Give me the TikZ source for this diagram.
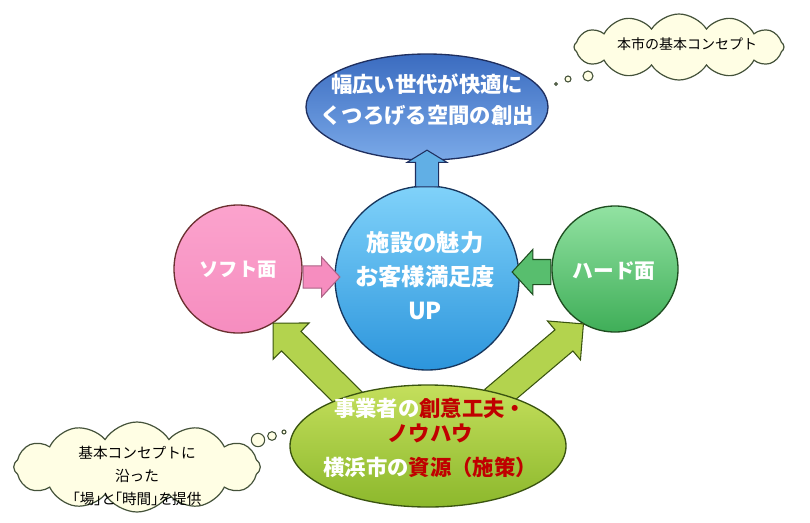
\documentclass[tikz,border=0pt]{standalone}
\usepackage{fontspec}
\setmainfont{Noto Sans CJK JP}
\newfontfamily\jpprop{Noto Sans CJK JP}[RawFeature=+palt]
\usetikzlibrary{shapes.geometric,shapes.symbols,shapes.arrows,calc}
\pgfdeclarelayer{front}
\pgfsetlayers{main,front}
\definecolor{goaltop}{HTML}{3B6CC0}
\definecolor{goalbot}{HTML}{7AA9E8}
\definecolor{goalline}{HTML}{1F2F5F}
\definecolor{ctrtop}{HTML}{80D2FA}
\definecolor{ctrbot}{HTML}{2C95DC}
\definecolor{ctrline}{HTML}{17365D}
\definecolor{pinkfill}{HTML}{F68DBF}
\definecolor{pinktop}{HTML}{FBA3CD}
\definecolor{pinkline}{HTML}{6B3030}
\definecolor{grntop}{HTML}{92E2A2}
\definecolor{grnbot}{HTML}{3FAE58}
\definecolor{grnline}{HTML}{1E4D20}
\definecolor{ygtop}{HTML}{C4DF5C}
\definecolor{ygbot}{HTML}{8CB82C}
\definecolor{ygline}{HTML}{3A5410}
\definecolor{cloudfill}{HTML}{FFFEE4}
\definecolor{cloudline}{HTML}{44523A}
\definecolor{accent}{HTML}{C00000}
\tikzset{
  blob/.style={draw, line width=1pt, inner sep=0pt},
  wtext/.style={text=white, font=\bfseries, align=center, inner sep=0pt},
  ctext/.style={text=black, align=center, inner sep=0pt},
  cloudbox/.style={cloud, cloud puffs=12, cloud puff arc=115, cloud ignores aspect,
    draw=cloudline, fill=cloudfill, line width=0.9pt, inner sep=0pt},
  bubble/.style={draw=cloudline, fill=cloudfill, line width=0.8pt},
  barrow/.style={single arrow, inner xsep=0pt, line width=0.8pt, anchor=tail},
  uparr/.style={barrow, draw=goalline, fill=ctrbot!75!white, inner ysep=8.25pt,
    single arrow head extend=6.25pt, single arrow tip angle=117},
  pinkarr/.style={barrow, draw=pinkfill!70!black, fill=pinkfill, inner ysep=8pt,
    single arrow head extend=6.5pt, single arrow tip angle=95},
  grnarr/.style={barrow, draw=grnline, fill=grnbot!70!grntop, inner ysep=9pt,
    single arrow head extend=7.5pt, single arrow tip angle=95},
  ygarr/.style={barrow, draw=ygline, fill=ygtop!70!ygbot, inner ysep=10pt,
    single arrow head extend=8.75pt, single arrow tip angle=90},
}
\newcommand\blockarrow[3]{%
  \path let \p1=(#1), \p2=(#2), \n1={atan2(\y2-\y1,\x2-\x1)},
    \n2={veclen(\x2-\x1,\y2-\y1)} in
    node[#3, minimum height=\n2, rotate=\n1] at (\p1) {};}
\begin{document}
\begin{tikzpicture}[x=0.75pt,y=-0.75pt]
\useasboundingbox (0,0) rectangle (810,522);

% thought clouds
\node[cloudbox, minimum width=157.5pt, minimum height=49.5pt] (cloudA) at (679,47) {};
\node[ctext, font=\fontsize{10.5pt}{13pt}\selectfont] (cloudAtext) at (687,44) {本市の基本コンセプト};
\node[bubble, circle, minimum size=7.5pt, inner sep=0pt] (bA1) at (588,76) {};
\node[bubble, circle, minimum size=4.5pt, inner sep=0pt] (bA2) at (568,79) {};
\node[bubble, circle, minimum size=2.2pt, inner sep=0pt] (bA3) at (556,84) {};

\node[cloudbox, minimum width=185pt, minimum height=67.5pt] (cloudB) at (137,467) {};
\node[ctext, font=\fontsize{11pt}{17pt}\selectfont] (cloudBtext) at (137,476)
  {基本コンセプトに\\沿った\\{\jpprop 「場」と「時間」を提供}};
\node[bubble, circle, minimum size=10pt, inner sep=0pt] (bB1) at (258,440) {};
\node[bubble, circle, minimum size=6.5pt, inner sep=0pt] (bB2) at (272,436) {};
\node[bubble, circle, minimum size=3pt, inner sep=0pt] (bB3) at (284,432) {};

% main shapes
\node[blob, ellipse, draw=goalline, top color=goaltop, bottom color=goalbot,
  minimum width=181.5pt, minimum height=79.5pt] (goal) at (427,107) {};
\node[wtext, font=\bfseries\fontsize{16pt}{23pt}\selectfont] (goaltext) at (427,100)
  {幅広い世代が快適に\\くつろげる空間の創出};

\node[blob, circle, draw=ctrline, top color=ctrtop, bottom color=ctrbot,
  minimum size=138pt] (center) at (427,278) {};
\node[wtext, font=\bfseries\fontsize{17.5pt}{25.5pt}\selectfont] (centertext) at (425,276)
  {施設の魅力\\お客様満足度\\UP};

\node[blob, circle, draw=pinkline, top color=pinktop, bottom color=pinkfill,
  minimum size=96pt] (soft) at (238,269) {};
\node[wtext, font=\bfseries\fontsize{14.5pt}{17pt}\selectfont] (softtext) at (238,270) {ソフト面};

\node[blob, circle, draw=grnline, top color=grntop, bottom color=grnbot,
  minimum size=94.5pt] (hard) at (615,269) {};
\node[wtext, font=\bfseries\fontsize{15.5pt}{18pt}\selectfont] (hardtext) at (614,271) {ハード面};

\begin{pgfonlayer}{front}
\node[blob, ellipse, draw=ygline, top color=ygtop, bottom color=ygbot,
  minimum width=207pt, minimum height=91.5pt] (bottom) at (428,446) {};
\node[wtext, font=\bfseries\fontsize{16pt}{18.5pt}\selectfont] (bottomtext) at (430,438)
  {事業者の{\color{accent}創意工夫・}\\{\color{accent}ノウハウ}\\[7pt]
   横浜市の{\color{accent}資源（施策）}};
\end{pgfonlayer}

% arrows
\blockarrow{$(center.north)+(0,2)$}{$(goal.south)+(0,-10)$}{uparr}
\blockarrow{$(soft.east)+(0,8)$}{$(center.west)+(5,-1)$}{pinkarr}
\blockarrow{$(hard.west)+(0,3)$}{$(center.east)+(-7,-6)$}{grnarr}
\blockarrow{$(bottom.center)!0.88!(bottom.150)$}{soft.-57}{ygarr}
\blockarrow{$(bottom.center)!0.88!(bottom.35)$}{hard.-120}{ygarr}
\end{tikzpicture}
\end{document}
